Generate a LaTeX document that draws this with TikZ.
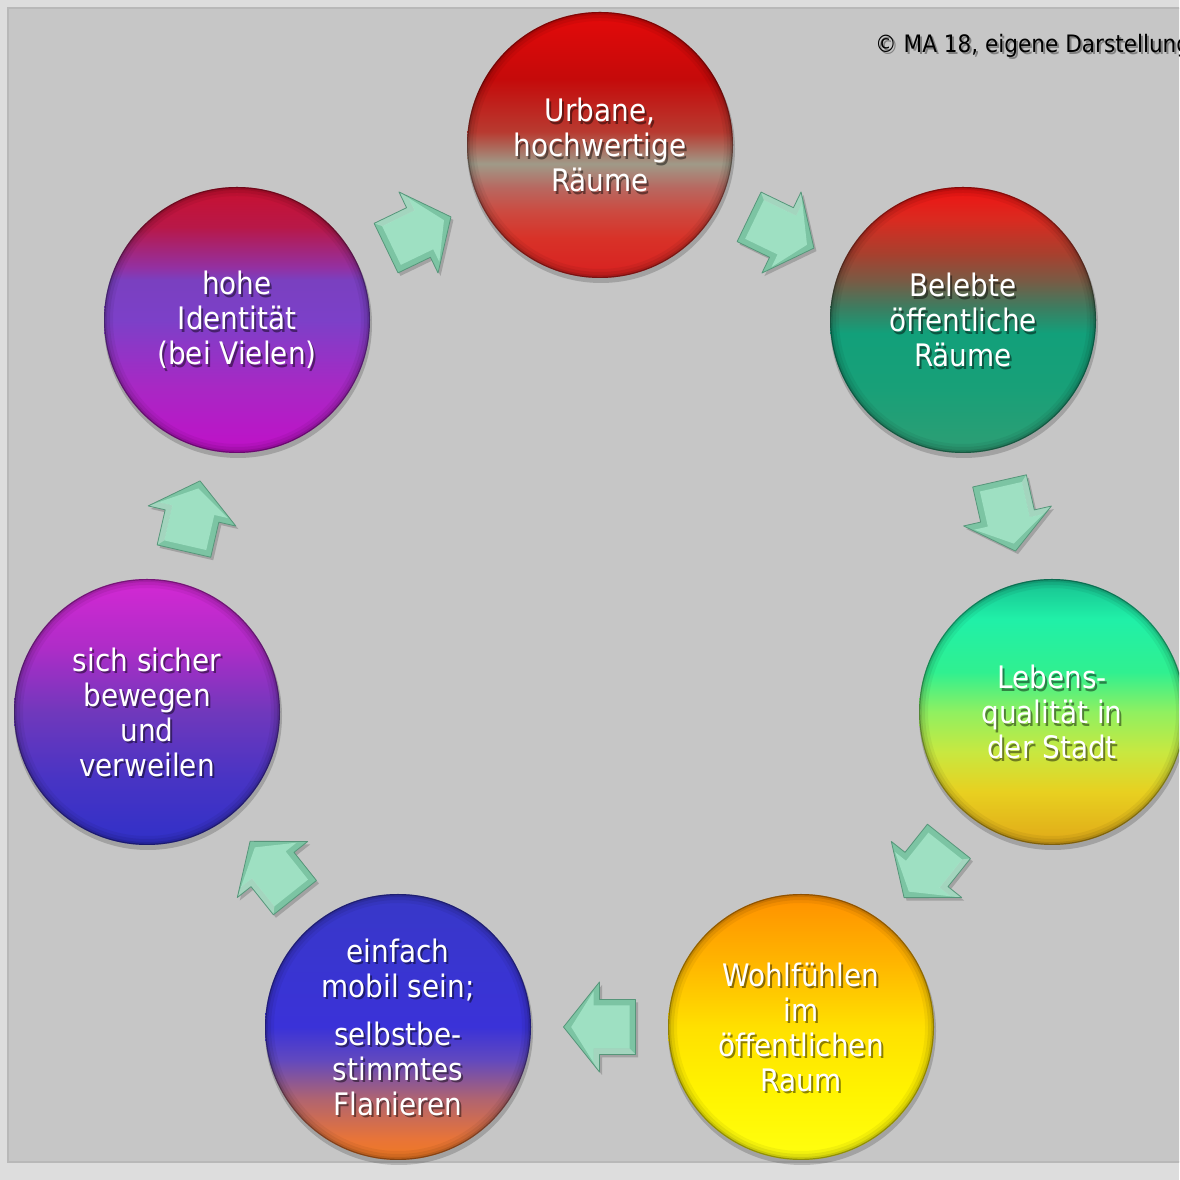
\documentclass[tikz,border=0pt]{standalone}
\usepackage{fontspec}
\newfontfamily\lblfont[FakeStretch=0.9]{DejaVu Sans}
\usetikzlibrary{calc}

% background colours
\definecolor{bgout}{HTML}{DDDDDD}
\definecolor{bgin}{HTML}{C6C6C6}
\definecolor{bgline}{HTML}{B8B8B8}
% arrows
\definecolor{arrface}{HTML}{9EE0C2}
\definecolor{arredge}{HTML}{7CC4A3}
\definecolor{arrline}{HTML}{56967A}

% Urbane
\definecolor{ua}{HTML}{D82020}\definecolor{ub}{HTML}{D83228}\definecolor{uc}{HTML}{CC4A40}
\definecolor{ud}{HTML}{B86860}\definecolor{ue}{HTML}{A09A88}\definecolor{uf}{HTML}{B83A30}
\definecolor{ug}{HTML}{C50A0A}\definecolor{uh}{HTML}{E40A0A}
\pgfdeclareverticalshading{shUrb}{100bp}{color(0bp)=(ua); color(25bp)=(ua); color(32.5bp)=(ub); color(37.5bp)=(uc); color(42bp)=(ud); color(46.5bp)=(ue); color(52.5bp)=(uf); color(62.5bp)=(ug); color(75bp)=(uh); color(100bp)=(uh)}
% Belebte
\definecolor{ba}{HTML}{2E9E74}\definecolor{bb}{HTML}{18A078}\definecolor{bc}{HTML}{12A07A}
\definecolor{bd}{HTML}{3E7C60}\definecolor{be}{HTML}{7A5A44}\definecolor{bf}{HTML}{A8402E}
\definecolor{bg}{HTML}{DA2A20}\definecolor{bh}{HTML}{F01212}
\pgfdeclareverticalshading{shBel}{100bp}{color(0bp)=(ba); color(25bp)=(ba); color(37.5bp)=(bb); color(47.5bp)=(bc); color(52.5bp)=(bd); color(57.5bp)=(be); color(62.5bp)=(bf); color(69bp)=(bg); color(75bp)=(bh); color(100bp)=(bh)}
% Lebens
\definecolor{la}{HTML}{E0A818}\definecolor{lb}{HTML}{E8D020}\definecolor{lc}{HTML}{C8E840}
\definecolor{ld}{HTML}{90F060}\definecolor{le}{HTML}{30F090}\definecolor{lf}{HTML}{20F0A8}
\definecolor{lg}{HTML}{18C090}
\pgfdeclareverticalshading{shLeb}{100bp}{color(0bp)=(la); color(25bp)=(la); color(35bp)=(lb); color(42.5bp)=(lc); color(50bp)=(ld); color(57.5bp)=(le); color(67.5bp)=(lf); color(75bp)=(lg); color(100bp)=(lg)}
% Wohlfuehlen
\definecolor{wa}{HTML}{FFFF10}\definecolor{wb}{HTML}{FFF400}\definecolor{wc}{HTML}{FFE000}
\definecolor{wd}{HTML}{FFB400}\definecolor{we}{HTML}{FF9000}
\pgfdeclareverticalshading{shWoh}{100bp}{color(0bp)=(wa); color(25bp)=(wa); color(37.5bp)=(wb); color(50bp)=(wc); color(62.5bp)=(wd); color(75bp)=(we); color(100bp)=(we)}
% einfach
\definecolor{ea}{HTML}{F07A20}\definecolor{eb}{HTML}{E87438}\definecolor{ec}{HTML}{B06470}
\definecolor{ed}{HTML}{6048C0}\definecolor{ee}{HTML}{3A32D8}\definecolor{ef}{HTML}{3838C8}
\pgfdeclareverticalshading{shEin}{100bp}{color(0bp)=(ea); color(25bp)=(ea); color(29bp)=(eb); color(36.5bp)=(ec); color(44bp)=(ed); color(50bp)=(ee); color(75bp)=(ef); color(100bp)=(ef)}
% sich sicher
\definecolor{sa}{HTML}{3030C8}\definecolor{sb}{HTML}{4834C4}\definecolor{sc}{HTML}{7038BC}
\definecolor{sd}{HTML}{B02CC8}\definecolor{se}{HTML}{D428D4}
\pgfdeclareverticalshading{shSic}{100bp}{color(0bp)=(sa); color(25bp)=(sa); color(37.5bp)=(sb); color(50bp)=(sc); color(62.5bp)=(sd); color(75bp)=(se); color(100bp)=(se)}
% hohe
\definecolor{ha}{HTML}{C010C8}\definecolor{hb}{HTML}{A828C4}\definecolor{hc}{HTML}{7C40C8}
\definecolor{hd}{HTML}{7A40C0}\definecolor{he}{HTML}{9430A0}\definecolor{hf}{HTML}{B81848}
\definecolor{hg}{HTML}{C81030}
\pgfdeclareverticalshading{shHoh}{100bp}{color(0bp)=(ha); color(25bp)=(ha); color(37.5bp)=(hb); color(50bp)=(hc); color(57.5bp)=(hd); color(60bp)=(he); color(67.5bp)=(hf); color(75bp)=(hg); color(100bp)=(hg)}

\tikzset{
  ball/.style={circle, minimum size=266, inner sep=0pt, outer sep=0pt, draw=none},
  lbl/.style={align=center, inner sep=0pt, font=\lblfont\fontsize{31}{35}\selectfont},
  copytxt/.style={anchor=base west, inner sep=0pt, font=\lblfont\fontsize{24}{28}\selectfont},
  blockarrow/.pic={
    \fill[arredge] (-36,27.5) -- (0,27.5) -- (0,45) -- (36,0) -- (0,-45) -- (0,-27.5) -- (-36,-27.5) -- cycle;
    \fill[arrface] (-30,21.5) -- (6,21.5) -- (6,35.5) -- (28.3,0) -- (6,-35.5) -- (6,-21.5) -- (-30,-21.5) -- cycle;
    \fill[white,opacity=0.3] (-30,21.5) -- (6,21.5) -- (6,35.5) -- (0,45) -- (0,27.5) -- (-36,27.5) -- cycle;
    \draw[arrline, line width=0.8pt, line join=round] (-36,27.5) -- (0,27.5) -- (0,45) -- (36,0) -- (0,-45) -- (0,-27.5) -- (-36,-27.5) -- cycle;
  },
  arrowshadow/.pic={
    \fill[black, opacity=0.18] (-36,27.5) -- (0,27.5) -- (0,45) -- (36,0) -- (0,-45) -- (0,-27.5) -- (-36,-27.5) -- cycle;
  },
}

\newcommand\bubble[4]{%
  \fill[black,opacity=0.18] (#2) ++(1,-4) circle (134);
  \node[ball, shading=#3] (#1) at (#2) {};
  \foreach \w/\o in {9/0.05,6/0.07,3/0.10,1.2/0.28}
    \draw[black,opacity=\o,line width=\w] (#1.center) circle ({133-\w/2});
  \node[lbl, text=black, opacity=0.45] (#1-sh) at ([shift={(2,-2.5)}]#1.center) {#4};
  \node[lbl, text=white] (#1-tx) at (#1.center) {#4};
}

\newcommand\flowarrow[2]{%
  \begin{scope}[transform canvas={shift={(2.5pt,-3pt)}}]
    \path (#1) -- (#2) pic[pos=0.5, sloped, allow upside down] {arrowshadow};
  \end{scope}
  \path (#1) -- (#2) pic[pos=0.5, sloped, allow upside down] {blockarrow};
}

\begin{document}
\begin{tikzpicture}[x=1pt, y=1pt]
  \useasboundingbox (0,0) rectangle (1179,1180);
  \clip (0,0) rectangle (1179,1180);
  \fill[bgout] (0,0) rectangle (1179,1180);
  \filldraw[fill=bgin, draw=bgline, line width=1.5pt] (8,18) rectangle (1190,1172);

  \node[copytxt, text=black, opacity=0.35] (copy-sh) at (877,1125) {© MA 18, eigene Darstellung};
  \node[copytxt, text=black] (copy) at (875,1127) {© MA 18, eigene Darstellung};

  \bubble{urb}{600,1035}{shUrb}{Urbane,\\hochwertige\\Räume}
  \bubble{bel}{963,860}{shBel}{Belebte\\öffentliche\\Räume}
  \bubble{leb}{1052,468}{shLeb}{Lebens-\\qualität in\\der Stadt}
  \bubble{woh}{801,153}{shWoh}{Wohlfühlen\\im\\öffentlichen\\Raum}
  \bubble{ein}{398,153}{shEin}{einfach\\mobil sein;\\[13pt]selbstbe-\\stimmtes\\Flanieren}
  \bubble{sic}{147,468}{shSic}{sich sicher\\bewegen\\und\\verweilen}
  \bubble{hoh}{237,860}{shHoh}{hohe\\Identität\\(bei Vielen)}

  \flowarrow{hoh}{urb}
  \flowarrow{urb}{bel}
  \flowarrow{bel}{leb}
  \flowarrow{leb}{woh}
  \flowarrow{woh}{ein}
  \flowarrow{ein}{sic}
  \flowarrow{sic}{hoh}
\end{tikzpicture}
\end{document}
